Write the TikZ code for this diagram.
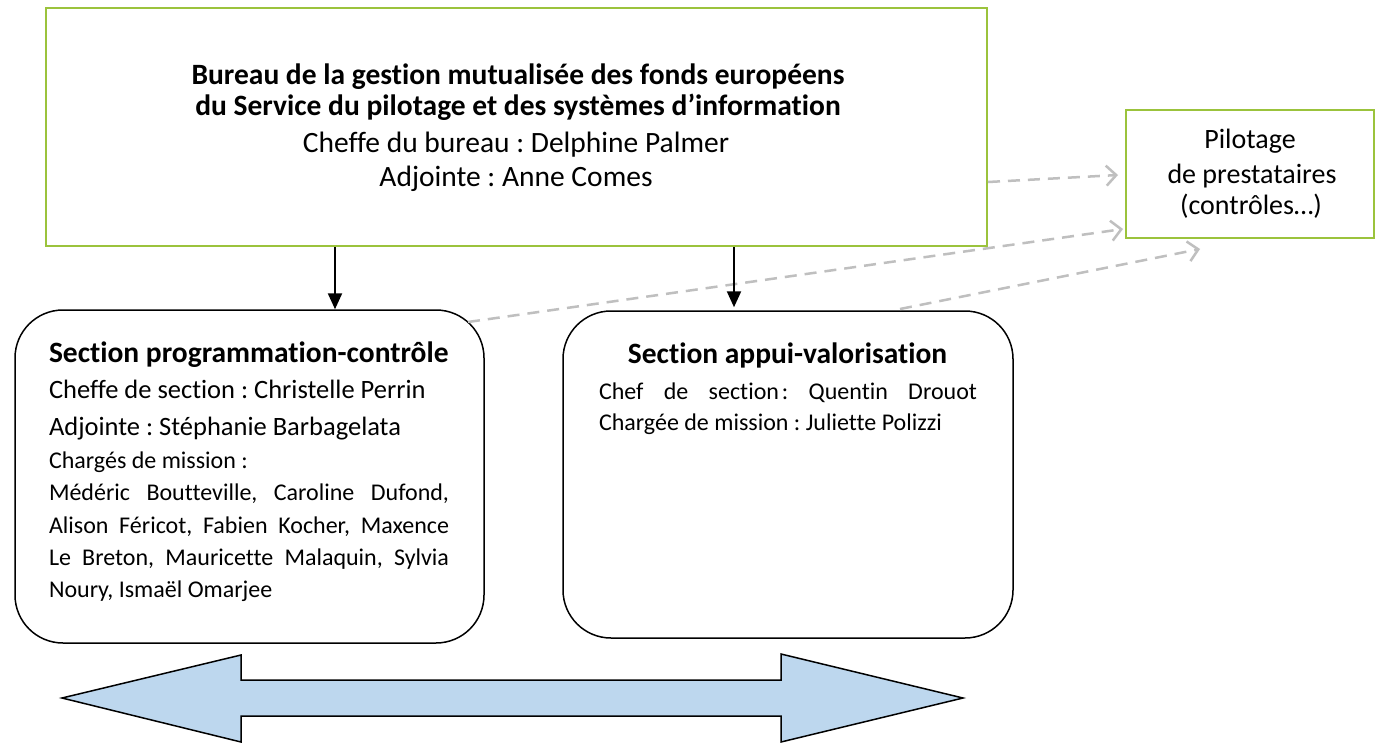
\documentclass[tikz,border=0pt]{standalone}
\usepackage{fontspec}
\setmainfont{Carlito}[Ligatures=NoCommon]
\frenchspacing
\usetikzlibrary{arrows.meta}
\definecolor{boxgreen}{RGB}{155,195,60}
\definecolor{dashgray}{RGB}{191,191,191}
\definecolor{arrowblue}{RGB}{189,215,238}
\begin{document}
\begin{tikzpicture}[x=1pt,y=-1pt,
  greenbox/.style={draw=boxgreen,line width=2.8pt,rectangle,inner sep=0pt},
  roundbox/.style={draw=black,line width=1.5pt,rectangle,rounded corners=48pt,inner sep=0pt},
  txt/.style={inner sep=0pt,outer sep=0pt},
  big/.style={font=\fontsize{29.5}{32}\selectfont},
  pil/.style={font=\fontsize{28}{31}\selectfont},
  med/.style={font=\fontsize{26.5}{30}\selectfont},
  small/.style={font=\fontsize{24}{28}\selectfont},
  hierarrow/.style={draw=black,line width=2.2pt,-{Triangle[length=16pt,width=14pt]}},
  dashlink/.style={draw=dashgray,line width=2.5pt,dash pattern=on 12pt off 8pt,-{Straight Barb[length=10pt,width=20pt]}},
]
\useasboundingbox (0,0) rectangle (1381,747);
\fill[white] (0,0) rectangle (1381,747);

% boxes
\node[greenbox,minimum width=941pt,minimum height=238pt] (bureau) at (516.5,127) {};
\node[greenbox,minimum width=248pt,minimum height=128pt] (pilot) at (1250,174) {};
\node[roundbox,minimum width=469pt,minimum height=333pt] (lbox) at (249.5,476.5) {};
\node[roundbox,minimum width=450pt,minimum height=327pt] (rbox) at (788,474.5) {};

% top box text
\node[txt,big,anchor=base] (t1) at (518,84) {\bfseries Bureau de la gestion mutualisée des fonds européens};
\node[txt,big,anchor=base] (t2) at (518,115) {\bfseries du Service du pilotage et des systèmes d’information};
\node[txt,big,anchor=base] (t3) at (516,152) {Cheffe du bureau : Delphine Palmer};
\node[txt,big,anchor=base] (t4) at (516,186) {Adjointe : Anne Comes};

% pilotage box text
\node[txt,pil,anchor=base] (p1) at (1250,148) {Pilotage};
\node[txt,pil,anchor=base] (p2) at (1252,183) {de prestataires};
\node[txt,pil,anchor=base] (p3) at (1251,214) {(contrôles…)};

% left box text
\node[txt,big,anchor=base west] (l1) at (49,362) {\bfseries Section programmation-contrôle};
\node[txt,med,anchor=base west] (l2) at (49,398) {Cheffe de section : Christelle Perrin};
\node[txt,med,anchor=base west] (l3) at (49,435) {Adjointe : Stéphanie Barbagelata};
\node[txt,small,anchor=base west] (l4) at (49,468) {Chargés de mission :};
\node[txt,small,anchor=base west] (l5) at (49,500) {\makebox[400pt][s]{Médéric Boutteville, Caroline Dufond,}};
\node[txt,small,anchor=base west] (l6) at (49,533) {\makebox[400pt][s]{Alison Féricot, Fabien Kocher, Maxence}};
\node[txt,small,anchor=base west] (l7) at (49,565) {\makebox[400pt][s]{Le Breton, Mauricette Malaquin, Sylvia}};
\node[txt,small,anchor=base west] (l8) at (49,597) {Noury, Ismaël Omarjee};

% right box text
\node[txt,big,anchor=base] (r1) at (787.5,363) {\bfseries Section appui-valorisation};
\node[txt,small,anchor=base west] (r2) at (599,399) {\makebox[378pt][s]{Chef de section\hspace{0.12em}: Quentin Drouot}};
\node[txt,small,anchor=base west] (r3) at (599,430) {Chargée de mission : Juliette Polizzi};

% dashed links to pilotage
\coordinate (d1s) at (988,182);
\coordinate (d1e) at (1118,175);
\coordinate (d2s) at (468,322);
\coordinate (d2e) at (1123,229);
\coordinate (d3s) at (900,309);
\coordinate (d3e) at (1200,249);
\draw[dashlink] (d1s) -- (d1e);
\draw[dashlink] (d2s) -- (d2e);
\draw[dashlink] (d3s) -- (d3e);

% hierarchy arrows
\coordinate (ax1) at (335,0);
\coordinate (ax2) at (734,0);
\draw[hierarrow] (bureau.south -| ax1) -- (lbox.north -| ax1);
\draw[hierarrow] (bureau.south -| ax2) -- ([yshift=3pt]rbox.north -| ax2);

% double arrow
\draw[line width=1.5pt,fill=arrowblue,line join=miter]
  (62,698) -- (241,655) -- (241,680) -- (781,680) -- (781,654) -- (963,698)
  -- (781,742) -- (781,716) -- (241,716) -- (241,742) -- cycle;
\end{tikzpicture}
\end{document}
